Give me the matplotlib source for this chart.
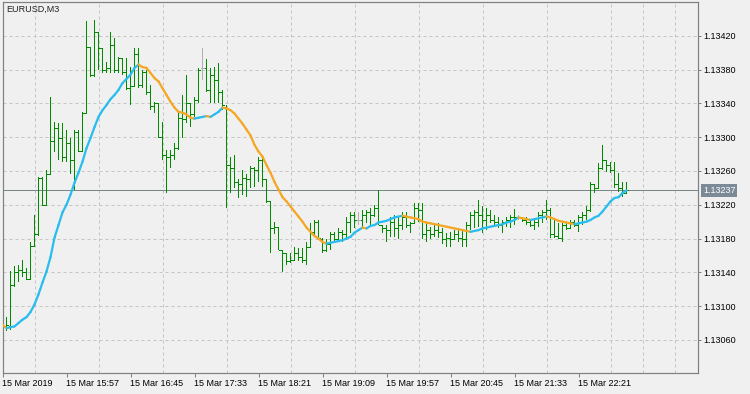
import numpy as np
import matplotlib
matplotlib.use("Agg")
import matplotlib.pyplot as plt
from matplotlib.collections import LineCollection
import matplotlib.transforms as mtransforms

# ---------------- data ----------------
symbol_title = "EURUSD,M3"
time_labels = ["15 Mar 2019", "15 Mar 15:57", "15 Mar 16:45", "15 Mar 17:33",
               "15 Mar 18:21", "15 Mar 19:09", "15 Mar 19:57", "15 Mar 20:45",
               "15 Mar 21:33", "15 Mar 22:21"]
bars_per_label = 16
current_price = 1.13237
price_ticks = [1.13060, 1.13100, 1.13140, 1.13180, 1.13220,
               1.13260, 1.13300, 1.13340, 1.13380, 1.13420]

opens = [1.13080,
    1.13077, 1.13077, 1.13125, 1.13141, 1.13143, 1.13140, 1.13132, 1.13171, 1.13185, 1.13252,
    1.13220, 1.13256, 1.13295, 1.13311, 1.13299, 1.13277, 1.13293, 1.13273, 1.13306, 1.13284,
    1.13329, 1.13407, 1.13374, 1.13424, 1.13406, 1.13380, 1.13382, 1.13409, 1.13380, 1.13394,
    1.13377, 1.13358, 1.13361, 1.13398, 1.13362, 1.13377, 1.13353, 1.13337, 1.13340, 1.13300,
    1.13279, 1.13276, 1.13279, 1.13287, 1.13323, 1.13321, 1.13341, 1.13327, 1.13344, 1.13382,
    1.13382, 1.13356, 1.13374, 1.13368, 1.13354, 1.13336, 1.13267, 1.13264, 1.13247, 1.13244,
    1.13252, 1.13250, 1.13264, 1.13261, 1.13273, 1.13250, 1.13224, 1.13193, 1.13194, 1.13167,
    1.13163, 1.13153, 1.13155, 1.13163, 1.13158, 1.13155, 1.13170, 1.13188, 1.13200, 1.13179,
    1.13167, 1.13173, 1.13185, 1.13179, 1.13188, 1.13185, 1.13200, 1.13208, 1.13202, 1.13202,
    1.13208, 1.13212, 1.13208, 1.13216, 1.13196, 1.13193, 1.13190, 1.13200, 1.13193, 1.13196,
    1.13205, 1.13196, 1.13199, 1.13216, 1.13214, 1.13185, 1.13190, 1.13185, 1.13190, 1.13188,
    1.13179, 1.13181, 1.13179, 1.13185, 1.13181, 1.13179, 1.13196, 1.13208, 1.13212, 1.13208,
    1.13202, 1.13208, 1.13202, 1.13200, 1.13196, 1.13200, 1.13202, 1.13205, 1.13206, 1.13206,
    1.13202, 1.13200, 1.13196, 1.13200, 1.13208, 1.13212, 1.13214, 1.13185, 1.13183, 1.13181,
    1.13196, 1.13193, 1.13200, 1.13196, 1.13205, 1.13208, 1.13214, 1.13244, 1.13240, 1.13264,
    1.13273, 1.13267, 1.13261, 1.13244, 1.13240, 1.13234]

highs = [1.13087,
    1.13087, 1.13142, 1.13148, 1.13149, 1.13155, 1.13145, 1.13176, 1.13208, 1.13253, 1.13253,
    1.13261, 1.13348, 1.13318, 1.13317, 1.13317, 1.13309, 1.13299, 1.13309, 1.13309, 1.13330,
    1.13437, 1.13407, 1.13439, 1.13424, 1.13406, 1.13389, 1.13424, 1.13418, 1.13395, 1.13394,
    1.13394, 1.13383, 1.13406, 1.13406, 1.13380, 1.13380, 1.13362, 1.13342, 1.13341, 1.13318,
    1.13285, 1.13285, 1.13293, 1.13329, 1.13350, 1.13374, 1.13341, 1.13348, 1.13382, 1.13406,
    1.13392, 1.13382, 1.13383, 1.13388, 1.13356, 1.13338, 1.13276, 1.13279, 1.13250, 1.13261,
    1.13256, 1.13266, 1.13265, 1.13276, 1.13277, 1.13250, 1.13224, 1.13200, 1.13194, 1.13167,
    1.13163, 1.13163, 1.13170, 1.13169, 1.13169, 1.13176, 1.13199, 1.13202, 1.13202, 1.13181,
    1.13179, 1.13188, 1.13188, 1.13193, 1.13190, 1.13205, 1.13211, 1.13212, 1.13212, 1.13214,
    1.13214, 1.13216, 1.13220, 1.13238, 1.13196, 1.13196, 1.13206, 1.13208, 1.13205, 1.13211,
    1.13212, 1.13200, 1.13222, 1.13222, 1.13222, 1.13200, 1.13194, 1.13196, 1.13199, 1.13193,
    1.13187, 1.13188, 1.13190, 1.13193, 1.13190, 1.13200, 1.13212, 1.13214, 1.13226, 1.13218,
    1.13216, 1.13214, 1.13208, 1.13205, 1.13202, 1.13206, 1.13208, 1.13215, 1.13208, 1.13206,
    1.13205, 1.13202, 1.13202, 1.13211, 1.13214, 1.13226, 1.13216, 1.13202, 1.13199, 1.13199,
    1.13200, 1.13202, 1.13202, 1.13208, 1.13212, 1.13218, 1.13247, 1.13244, 1.13270, 1.13291,
    1.13273, 1.13271, 1.13271, 1.13258, 1.13247, 1.13247]

lows = [1.13075,
    1.13071, 1.13072, 1.13123, 1.13129, 1.13135, 1.13131, 1.13131, 1.13170, 1.13183, 1.13218,
    1.13218, 1.13256, 1.13283, 1.13273, 1.13271, 1.13271, 1.13256, 1.13238, 1.13283, 1.13282,
    1.13329, 1.13371, 1.13371, 1.13380, 1.13376, 1.13376, 1.13376, 1.13376, 1.13376, 1.13374,
    1.13356, 1.13338, 1.13360, 1.13358, 1.13358, 1.13350, 1.13332, 1.13329, 1.13299, 1.13273,
    1.13234, 1.13264, 1.13273, 1.13285, 1.13299, 1.13317, 1.13312, 1.13324, 1.13341, 1.13368,
    1.13354, 1.13341, 1.13341, 1.13341, 1.13332, 1.13216, 1.13234, 1.13240, 1.13228, 1.13232,
    1.13229, 1.13240, 1.13241, 1.13247, 1.13241, 1.13222, 1.13163, 1.13185, 1.13167, 1.13140,
    1.13149, 1.13151, 1.13153, 1.13153, 1.13151, 1.13149, 1.13170, 1.13182, 1.13179, 1.13163,
    1.13164, 1.13167, 1.13175, 1.13179, 1.13176, 1.13181, 1.13187, 1.13193, 1.13196, 1.13194,
    1.13199, 1.13194, 1.13206, 1.13196, 1.13187, 1.13176, 1.13182, 1.13182, 1.13179, 1.13190,
    1.13193, 1.13187, 1.13199, 1.13200, 1.13179, 1.13176, 1.13179, 1.13182, 1.13181, 1.13173,
    1.13170, 1.13170, 1.13179, 1.13176, 1.13170, 1.13170, 1.13190, 1.13193, 1.13194, 1.13187,
    1.13190, 1.13199, 1.13194, 1.13193, 1.13187, 1.13194, 1.13193, 1.13196, 1.13202, 1.13200,
    1.13196, 1.13194, 1.13190, 1.13194, 1.13199, 1.13202, 1.13181, 1.13181, 1.13179, 1.13176,
    1.13190, 1.13193, 1.13194, 1.13188, 1.13196, 1.13202, 1.13211, 1.13234, 1.13240, 1.13261,
    1.13259, 1.13258, 1.13240, 1.13235, 1.13229, 1.13233]

closes = [1.13077,
    1.13078, 1.13125, 1.13141, 1.13143, 1.13140, 1.13132, 1.13171, 1.13185, 1.13252, 1.13220,
    1.13256, 1.13295, 1.13311, 1.13299, 1.13277, 1.13293, 1.13273, 1.13306, 1.13284, 1.13329,
    1.13407, 1.13374, 1.13424, 1.13406, 1.13380, 1.13382, 1.13409, 1.13380, 1.13394, 1.13377,
    1.13358, 1.13361, 1.13398, 1.13362, 1.13377, 1.13353, 1.13337, 1.13340, 1.13300, 1.13279,
    1.13276, 1.13279, 1.13287, 1.13323, 1.13321, 1.13341, 1.13327, 1.13344, 1.13380, 1.13382,
    1.13356, 1.13374, 1.13368, 1.13354, 1.13338, 1.13267, 1.13264, 1.13247, 1.13244, 1.13252,
    1.13250, 1.13264, 1.13261, 1.13273, 1.13250, 1.13224, 1.13193, 1.13194, 1.13167, 1.13163,
    1.13153, 1.13155, 1.13163, 1.13158, 1.13155, 1.13170, 1.13188, 1.13200, 1.13181, 1.13167,
    1.13173, 1.13185, 1.13179, 1.13188, 1.13185, 1.13200, 1.13208, 1.13202, 1.13202, 1.13208,
    1.13212, 1.13208, 1.13216, 1.13196, 1.13193, 1.13190, 1.13200, 1.13193, 1.13196, 1.13205,
    1.13196, 1.13199, 1.13216, 1.13214, 1.13185, 1.13190, 1.13185, 1.13190, 1.13188, 1.13179,
    1.13181, 1.13179, 1.13185, 1.13181, 1.13179, 1.13196, 1.13208, 1.13212, 1.13208, 1.13202,
    1.13208, 1.13202, 1.13200, 1.13196, 1.13200, 1.13202, 1.13205, 1.13206, 1.13206, 1.13202,
    1.13200, 1.13196, 1.13200, 1.13208, 1.13212, 1.13214, 1.13185, 1.13183, 1.13181, 1.13196,
    1.13193, 1.13200, 1.13196, 1.13205, 1.13208, 1.13214, 1.13244, 1.13240, 1.13264, 1.13273,
    1.13267, 1.13261, 1.13244, 1.13240, 1.13234, 1.13237]

ma_values = [1.13078,
    1.13074, 1.13075, 1.13076, 1.13080, 1.13084, 1.13087, 1.13093, 1.13102, 1.13114, 1.13128,
    1.13141, 1.13158, 1.13181, 1.13196, 1.13211, 1.13220, 1.13232, 1.13246, 1.13258, 1.13271,
    1.13287, 1.13299, 1.13312, 1.13324, 1.13332, 1.13338, 1.13345, 1.13350, 1.13356, 1.13364,
    1.13369, 1.13374, 1.13382, 1.13386, 1.13383, 1.13382, 1.13376, 1.13370, 1.13366, 1.13358,
    1.13350, 1.13342, 1.13335, 1.13330, 1.13329, 1.13327, 1.13323, 1.13322, 1.13323, 1.13324,
    1.13325, 1.13324, 1.13327, 1.13330, 1.13335, 1.13334, 1.13332, 1.13328, 1.13322, 1.13316,
    1.13309, 1.13302, 1.13291, 1.13283, 1.13277, 1.13267, 1.13258, 1.13247, 1.13238, 1.13229,
    1.13224, 1.13218, 1.13212, 1.13206, 1.13200, 1.13193, 1.13188, 1.13183, 1.13180, 1.13176,
    1.13174, 1.13175, 1.13176, 1.13177, 1.13178, 1.13180, 1.13182, 1.13187, 1.13190, 1.13193,
    1.13192, 1.13195, 1.13196, 1.13199, 1.13200, 1.13201, 1.13203, 1.13205, 1.13206, 1.13207,
    1.13206, 1.13205, 1.13204, 1.13203, 1.13200, 1.13199, 1.13198, 1.13197, 1.13196, 1.13195,
    1.13194, 1.13193, 1.13192, 1.13191, 1.13190, 1.13189, 1.13188, 1.13189, 1.13190, 1.13192,
    1.13193, 1.13194, 1.13195, 1.13196, 1.13197, 1.13199, 1.13200, 1.13202, 1.13205, 1.13204,
    1.13203, 1.13202, 1.13203, 1.13204, 1.13205, 1.13206, 1.13205, 1.13203, 1.13201, 1.13200,
    1.13199, 1.13198, 1.13197, 1.13198, 1.13199, 1.13200, 1.13202, 1.13205, 1.13207, 1.13212,
    1.13218, 1.13224, 1.13228, 1.13229, 1.13234, 1.13237]

# ---------------- style ----------------
BG = "#f0f0f0"
GRID = "#c4c4c4"
SPINE = "#808080"
BAR_GREEN = "#008a00"
DOJI_GRAY = "#b0b0b0"
MA_UP = "#29bdef"
MA_DOWN = "#f5a623"
PRICE_LINE = "#778787"
LABEL_BOX = "#7c8a97"
FONT = "Liberation Sans"
FS = 6.5

W, H = 750, 394
fig = plt.figure(figsize=(W / 100, H / 100), dpi=100, facecolor=BG)
left_px, right_px, top_px, bottom_px = 2.5, 697.5, 1.7, 372.7
ax = fig.add_axes([left_px / W, 1 - bottom_px / H,
                   (right_px - left_px) / W, (bottom_px - top_px) / H])
ax.set_facecolor(BG)

o = np.array(opens); h = np.array(highs); l = np.array(lows); c = np.array(closes)
ma = np.array(ma_values)
n = len(c)
x = np.arange(n)
px_per_bar = 4.0

bar_colors = [DOJI_GRAY if abs(oo - cc) < 1e-9 else BAR_GREEN for oo, cc in zip(o, c)]
lw_px = 72 / 100  # 1 pixel in points
one_px = 1.0 / px_per_bar  # one pixel in bar units
# high-low ranges as 1-pixel-wide filled bars
ax.bar(x, h - l, bottom=l, width=one_px, color=bar_colors, linewidth=0,
       antialiased=False, zorder=3)
# open (left) and close (right) ticks
ax.hlines(o, x - 1.5 * one_px, x - 0.5 * one_px, colors=bar_colors, linewidth=lw_px,
          antialiased=False, zorder=3)
ax.hlines(c, x + 0.5 * one_px, x + 1.5 * one_px, colors=bar_colors, linewidth=lw_px,
          antialiased=False, zorder=3)

# moving average, colored by slope
segs = []
cols = []
prev = MA_DOWN
for i in range(n - 1):
    segs.append([(x[i], ma[i]), (x[i + 1], ma[i + 1])])
    if ma[i + 1] > ma[i]:
        prev = MA_UP
    elif ma[i + 1] < ma[i]:
        prev = MA_DOWN
    cols.append(prev)
lc = LineCollection(segs, colors=cols, linewidths=1.6,
                    capstyle="round", joinstyle="round", zorder=4)
ax.add_collection(lc)

# current price line
ax.axhline(current_price, color=PRICE_LINE, linewidth=lw_px, zorder=2.6)

# axes limits
ax.set_xlim(0, (right_px - left_px) / px_per_bar)
ax.set_ylim(1.130212, 1.134604)

# grid
ax.set_xticks(np.arange(0, (right_px - left_px) / px_per_bar, 8), minor=True)
ax.grid(True, which="minor", axis="x", color=GRID, linestyle=(0, (3, 3)), linewidth=lw_px)
ax.grid(True, which="major", axis="y", color=GRID, linestyle=(0, (3, 3)), linewidth=lw_px)
ax.set_axisbelow(True)

# x ticks
xt = np.arange(len(time_labels)) * bars_per_label
ax.set_xticks(xt)
ax.set_xticklabels(time_labels, ha="left", fontsize=FS, family=FONT, color="#000000")
ax.tick_params(axis="x", which="major", length=3, width=lw_px, color=SPINE, pad=1.5)
ax.tick_params(axis="x", which="minor", length=0)

# y ticks on right
ax.yaxis.tick_right()
ax.set_yticks(price_ticks)
ax.set_yticklabels([f"{p:.5f}" for p in price_ticks], fontsize=FS, family=FONT, color="#000000")
ax.tick_params(axis="y", length=2.2, width=lw_px, color=SPINE, pad=1.8)

for s in ax.spines.values():
    s.set_color(SPINE)
    s.set_linewidth(lw_px * 1.2)

# title
ax.text(0.006, 0.991, symbol_title, transform=ax.transAxes, ha="left", va="top",
        fontsize=FS, family=FONT, color="#222222")

# current price label
trans = mtransforms.blended_transform_factory(ax.transAxes, ax.transData)
ax.text(1.0 + 5.5 / (right_px - left_px), current_price, f"{current_price:.5f}",
        transform=trans, ha="left", va="center", fontsize=FS, family=FONT,
        color="white", clip_on=False, zorder=10,
        bbox=dict(boxstyle="square,pad=0.22", facecolor=LABEL_BOX, edgecolor="none"))

fig.savefig("out.png", dpi=100, facecolor=BG)
